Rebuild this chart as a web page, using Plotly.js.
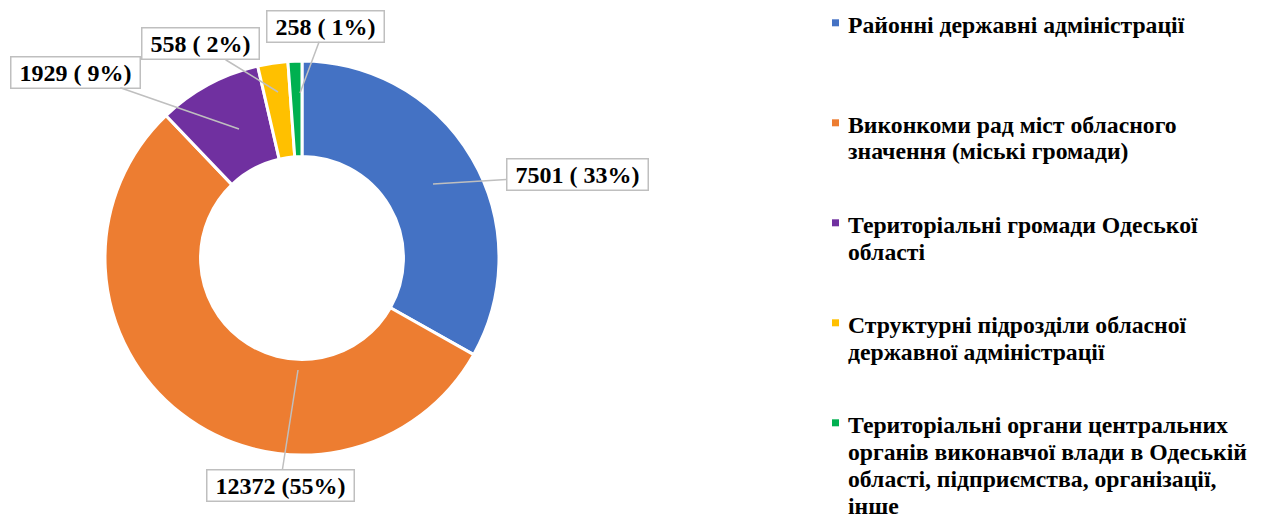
<!DOCTYPE html>
<html>
<head>
<meta charset="utf-8">
<script src="https://cdn.plot.ly/plotly-3.0.1.min.js"></script>
</head>
<body style="margin:0;background:#fff">
<div id="chart" style="width:1272px;height:517px"></div>
<script>
// ---- data ----
const categories = [
  "Районні державні адміністрації",
  "Виконкоми рад міст обласного<br>значення (міські громади)",
  "Територіальні громади Одеської<br>області",
  "Структурні підрозділи обласної<br>державної адміністрації",
  "Територіальні органи центральних<br>органів виконавчої влади в Одеській<br>області, підприємства, організації,<br>інше"
];
const values = [7501, 12372, 1929, 558, 258];
const dataLabels = ["7501 ( 33%)", "12372 (55%)", "1929 ( 9%)", "558 ( 2%)", "258 ( 1%)"];
const colors = ["#4472C4", "#ED7D31", "#7030A0", "#FFC000", "#00B050"];

// ---- layout settings (pixels) ----
const W = 1272, H = 517;
const cx = 302, cy = 258, R = 197;
const labelBoxes = [[577, 175], [280, 485], [75, 72], [200, 44], [325, 26]];
const leaderTips = [[433, 184], [298, 370], [239, 129], [278, 92], [300, 93]];
const legendTop = 24.5, legendStep = 100, legendLine = 27;
const legendMarkerX = 835.5, legendTextX = 846;

const px = x => x / W;
const py = y => 1 - y / H;

const trace = {
  type: "pie",
  values: values,
  labels: categories.map(c => c.replace(/<br>/g, " ")),
  sort: false,
  direction: "clockwise",
  rotation: 0,
  hole: 0.515,
  textinfo: "none",
  hoverinfo: "none",
  marker: { colors: colors, line: { color: "#FFFFFF", width: 3 } },
  domain: { x: [px(cx - R), px(cx + R)], y: [py(cy + R), py(cy - R)] },
  showlegend: false
};

const annotations = [];
const shapes = [];
dataLabels.forEach((t, i) => {
  annotations.push({
    xref: "paper", yref: "paper",
    x: px(leaderTips[i][0]), y: py(leaderTips[i][1]),
    ax: labelBoxes[i][0] - leaderTips[i][0],
    ay: labelBoxes[i][1] - leaderTips[i][1],
    text: "&nbsp;<b>" + t + "</b>&nbsp;",
    showarrow: true, arrowhead: 0, arrowwidth: 1.5, arrowcolor: "#BFBFBF",
    font: { family: "Liberation Serif", size: 24, color: "#000000" },
    bgcolor: "#FFFFFF", bordercolor: "#BFBFBF", borderwidth: 1.5, borderpad: 2
  });
});
categories.forEach((c, i) => {
  const rowY = legendTop + legendStep * i;
  c.split("<br>").forEach((line, j) => {
    annotations.push({
      xref: "paper", yref: "paper",
      x: px(legendTextX), y: py(rowY + legendLine * j),
      xanchor: "left", yanchor: "middle", align: "left",
      text: "<b>" + line + "</b>",
      showarrow: false,
      font: { family: "Liberation Serif", size: 23.7, color: "#000000" }
    });
  });
  shapes.push({
    type: "rect", xref: "paper", yref: "paper",
    x0: px(legendMarkerX - 3.5), x1: px(legendMarkerX + 3.5),
    y0: py(rowY + 1.8), y1: py(rowY - 5.2),
    fillcolor: colors[i], line: { width: 0 }
  });
});

const layout = {
  width: W, height: H,
  margin: { l: 0, r: 0, t: 0, b: 0 },
  paper_bgcolor: "#FFFFFF",
  plot_bgcolor: "#FFFFFF",
  showlegend: false,
  annotations: annotations,
  shapes: shapes
};

Plotly.newPlot("chart", [trace], layout, { displayModeBar: false });
</script>
</body>
</html>
